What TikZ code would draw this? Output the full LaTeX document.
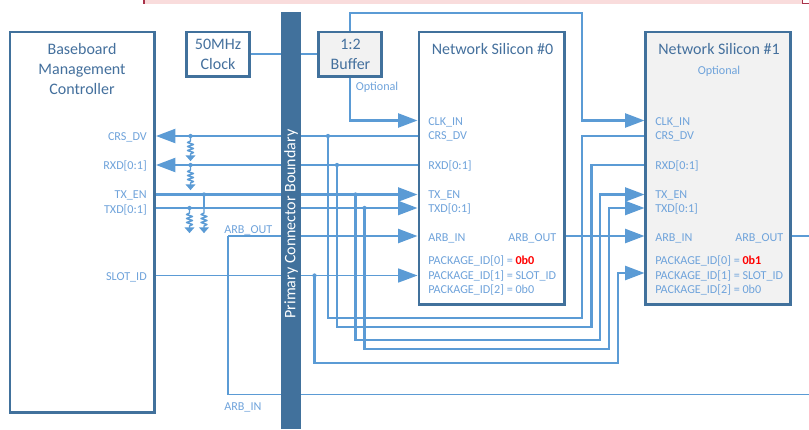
\documentclass[tikz,border=0pt]{standalone}
\usepackage{fontspec}
\setmainfont{Carlito}
\usetikzlibrary{arrows.meta,calc}
\definecolor{boxblue}{HTML}{41719C}
\definecolor{wireblue}{HTML}{5B9BD5}
\definecolor{labblue}{HTML}{6FA3DB}
\definecolor{titleblue}{HTML}{44709D}
\definecolor{greyfill}{HTML}{F2F2F2}
\definecolor{bandpink}{HTML}{F9DCDC}
\definecolor{banddark}{HTML}{A8324A}
\tikzset{x=0.75pt,y=-0.75pt,
 blockbox/.style={draw=boxblue,line width=2.2pt,inner sep=0pt,outer sep=0pt,anchor=north west},
 wire/.style={draw=wireblue,line width=1.6pt},
 thinwire/.style={draw=wireblue,line width=1.1pt},
 tip/.style={-{Triangle[length=14.5pt,width=10.5pt]}},
 sig/.style={text=labblue,font=\fontsize{9.1pt}{11pt}\selectfont,inner sep=0pt},
 title/.style={text=titleblue,font=\fontsize{12pt}{15pt}\selectfont,align=center,inner sep=0pt},
 tap/.style={circle,fill=wireblue,inner sep=0pt,minimum size=3.2pt},
}
\newcommand{\resist}[1]{%
 \draw[wireblue,line width=1.1pt,line join=round] (#1) -- ++(0,5) -- ++(-3,1.5) -- ++(6,2) -- ++(-6,2) -- ++(6,2) -- ++(-6,2) -- ++(6,2) -- ++(-3,1.5) -- ++(0,2);
 \draw[wireblue,line width=1.1pt,fill=wireblue] ($(#1)+(-3.5,20)$) -- ++(7,0) -- ++(-3.5,4) -- cycle;
}
\begin{document}
\begin{tikzpicture}
\useasboundingbox (0,0) rectangle (809,429);
% pink band
\fill[bandpink] (144,-2) rectangle (803,3.5);
\draw[banddark,line width=0.8pt] (144,0) -- (144,3.8);
\draw[banddark,line width=0.8pt] (802.5,0) -- (802.5,3.8) -- (809,3.8);
% coordinates
\coordinate (clkR) at (250,54);
\coordinate (bufL) at (318,54);
\coordinate (crsA) at (156,136);
\coordinate (crsB) at (419,136);
\coordinate (rxdA) at (156,165);
\coordinate (rxdB) at (419,165);
\coordinate (txeA) at (155,194.5);
\coordinate (txeB) at (417.5,194.5);
\coordinate (txdA) at (155,208);
\coordinate (txdB) at (417.5,208);
\coordinate (sltA) at (155,275.5);
\coordinate (sltB) at (417.5,275.5);
\coordinate (arbTurn) at (228,236);
\coordinate (arbBot) at (228,394.5);
\coordinate (arbEnd) at (809,394.5);
\coordinate (arbIn0) at (417.5,236);
\coordinate (arbOut0) at (565,236);
\coordinate (arbIn1) at (644.5,236);
\coordinate (arbOut1) at (791,236);
\coordinate (arbOutEnd) at (809,236);
\coordinate (bufT) at (350,32);
\coordinate (bufB) at (350,77);
\coordinate (clk0) at (417.5,120.5);
\coordinate (clk1) at (644.5,120.5);
\coordinate (t1) at (328,136);
\coordinate (t2) at (337,165);
\coordinate (t3) at (355.5,194.5);
\coordinate (t4) at (364.5,208);
\coordinate (t5) at (314.5,275.5);
\coordinate (r1) at (190.5,136);
\coordinate (r2) at (190.5,165);
\coordinate (r3) at (189.5,208);
\coordinate (r4) at (204,194.5);
\coordinate (r4b) at (204,208);
% wires
\draw[thinwire] (clkR) -- (bufL);
\draw[wire,tip] (crsB) -- (crsA);
\draw[wire,tip] (rxdB) -- (rxdA);
\draw[wire,tip] (txeA) -- (txeB);
\draw[wire,tip] (txdA) -- (txdB);
\draw[thinwire,tip] (sltA) -- (sltB);
\draw[wire,tip] (arbTurn) -- (arbIn0);
\draw[wire] (arbTurn) -- (arbBot);
\draw[thinwire] (arbBot) -- (arbEnd);
\draw[wire,tip] (arbOut0) -- (arbIn1);
\draw[thinwire] (arbOut1) -- (arbOutEnd);
\draw[wire,tip] (bufB) |- (clk0);
\draw[wire,tip] (bufT) -- (350,13) -- (582,13) -- (582,120.5) -- (clk1);
\draw[wire] (t1) -- (328,318) -- (582,318) -- (582,136) -- (646,136);
\draw[wire] (t2) -- (337,327) -- (591.5,327) -- (591.5,165) -- (646,165);
\draw[wire,tip] (t3) -- (355.5,340) -- (600,340) -- (600,194.5) -- (644.5,194.5);
\draw[wire,tip] (t4) -- (364.5,349) -- (609,349) -- (609,208) -- (644.5,208);
\draw[wire,tip] (t5) -- (314.5,363) -- (618,363) -- (618,273) -- (644.5,273);
\foreach \p in {t1,t2,t3,t4,t5,r1,r2,r3,r4} \node[tap] at (\p) {};
\resist{r1}
\resist{r2}
\resist{r3}
\draw[wireblue,line width=1.1pt] (r4) -- (r4b);
\resist{r4b}
% bar
\node[fill=boxblue,minimum width=15pt,minimum height=312.75pt,inner sep=0pt,outer sep=0pt,anchor=north west] (bar) at (281,12) {};
\node[rotate=90,text=white,font=\fontsize{12pt}{14pt}\selectfont,inner sep=0pt] (barlab) at (291,224) {Primary Connector Boundary};
% boxes (centre-line sizes in px x 0.75)
\node[blockbox,fill=white,minimum width=108.5pt,minimum height=285.4pt] (bmc) at (10,32) {};
\node[blockbox,fill=white,minimum width=47.3pt,minimum height=33.4pt] (clock) at (186.5,32) {};
\node[blockbox,fill=greyfill,minimum width=46.8pt,minimum height=33.4pt] (buf) at (318.8,32) {};
\node[blockbox,fill=white,minimum width=109.2pt,minimum height=204.2pt] (ns0) at (419,32) {};
\node[blockbox,fill=greyfill,minimum width=108.75pt,minimum height=204.2pt] (ns1) at (645.8,32) {};
% titles
\node[title] (t-bmc) at (82,68.5) {Baseboard\\Management\\Controller};
\node[title] (t-clk) at (218,54.5) {50MHz\\Clock};
\node[title] (t-buf) at (350.5,54.5) {1:2\\Buffer};
\node[title] (t-ns0) at (492.5,49) {Network Silicon \#0};
\node[title] (t-ns1) at (719,49) {Network Silicon \#1};
\node[sig] (o1) at (377,87) {Optional};
\node[sig] (o2) at (719,71) {Optional};
% BMC labels
\foreach \n/\y/\t in {a/137/CRS\_DV,b/166/RXD[0:1],c/195.5/TX\_EN,d/210/TXD[0:1],e/277/SLOT\_ID}
  \node[sig,anchor=east] (bl\n) at (147,\y) {\t};
\node[sig,anchor=west] (l-arbo) at (224,230) {ARB\_OUT};
\node[sig,anchor=west] (l-arbi) at (224,407.5) {ARB\_IN};
% NS labels
\foreach \x/\s/\bit in {428/p/0b0,655/q/0b1}{
 \node[sig,anchor=west] (\s a) at (\x,122) {CLK\_IN};
 \node[sig,anchor=west] (\s b) at (\x,136.5) {CRS\_DV};
 \node[sig,anchor=west] (\s c) at (\x,165.5) {RXD[0:1]};
 \node[sig,anchor=west] (\s d) at (\x,195) {TX\_EN};
 \node[sig,anchor=west] (\s e) at (\x,209) {TXD[0:1]};
 \node[sig,anchor=west] (\s f) at (\x,238) {ARB\_IN};
 \node[sig,anchor=west] (\s g) at (\x,261) {PACKAGE\_ID[0] = \textcolor{red}{\textbf{\bit}}};
 \node[sig,anchor=west] (\s h) at (\x,276) {PACKAGE\_ID[1] = SLOT\_ID};
 \node[sig,anchor=west] (\s i) at (\x,290) {PACKAGE\_ID[2] = 0b0};
}
\node[sig,anchor=east] (pz) at (556.5,238) {ARB\_OUT};
\node[sig,anchor=east] (qz) at (783.5,238) {ARB\_OUT};
\end{tikzpicture}
\end{document}
